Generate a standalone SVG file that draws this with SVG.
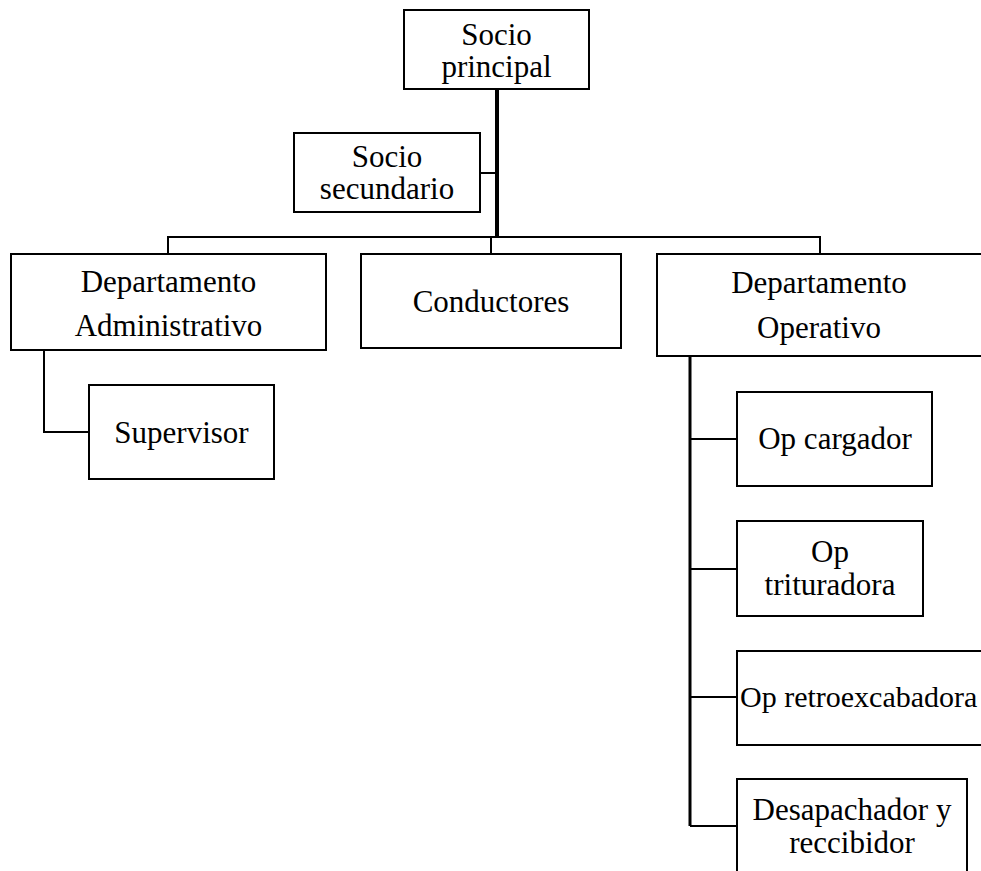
<svg xmlns="http://www.w3.org/2000/svg" width="981" height="871" viewBox="0 0 981 871">
<style>
rect.box{fill:#fff;stroke:#000;stroke-width:2}
text{font-family:"Liberation Serif","Times New Roman",serif;font-size:31px;fill:#000;text-anchor:middle}
.c{fill:none;stroke:#000;stroke-width:2;stroke-linejoin:miter}
.thick{stroke-width:4}
.mid{stroke-width:3}
</style>
<rect width="981" height="871" fill="#fff"/>
<g id="connectors">
<path class="c thick" d="M497 89V237"/>
<path class="c" d="M480 173H497"/>
<path class="c" d="M168 254V237H820V254"/>
<path class="c" d="M491 237V254"/>
<path class="c" d="M44 350V432H89"/>
<path class="c mid" d="M690 356V826"/>
<path class="c" d="M690 439H737M690 569H737M690 697H737M690 826H737"/>
</g>
<g id="socio-principal">
<rect class="box" x="404" y="10" width="185" height="79"/>
<text x="496.5" y="45">Socio</text>
<text x="496.5" y="77">principal</text>
</g>
<g id="socio-secundario">
<rect class="box" x="294" y="133" width="186" height="79"/>
<text x="387" y="167">Socio</text>
<text x="387" y="199">secundario</text>
</g>
<g id="depto-administrativo">
<rect class="box" x="11" y="254" width="315" height="96"/>
<text x="168.5" y="292">Departamento</text>
<text x="168.5" y="336">Administrativo</text>
</g>
<g id="conductores">
<rect class="box" x="361" y="254" width="260" height="94"/>
<text x="491" y="312">Conductores</text>
</g>
<g id="depto-operativo">
<rect class="box" x="657" y="254" width="330" height="102"/>
<text x="819" y="293">Departamento</text>
<text x="819" y="338">Operativo</text>
</g>
<g id="supervisor">
<rect class="box" x="89" y="385" width="185" height="94"/>
<text x="181.5" y="443">Supervisor</text>
</g>
<g id="op-cargador">
<rect class="box" x="737" y="392" width="195" height="94"/>
<text x="835" y="449">Op cargador</text>
</g>
<g id="op-trituradora">
<rect class="box" x="737" y="521" width="186" height="95"/>
<text x="830" y="562">Op</text>
<text x="830" y="595">trituradora</text>
</g>
<g id="op-retroexcabadora">
<rect class="box" x="737" y="651" width="260" height="94"/>
<text x="740" y="707" style="text-anchor:start;font-size:30px">Op retroexcabadora</text>
</g>
<g id="desapachador">
<rect class="box" x="737" y="779" width="230" height="110"/>
<text x="852" y="820">Desapachador y</text>
<text x="852" y="853">reccibidor</text>
</g>
</svg>
